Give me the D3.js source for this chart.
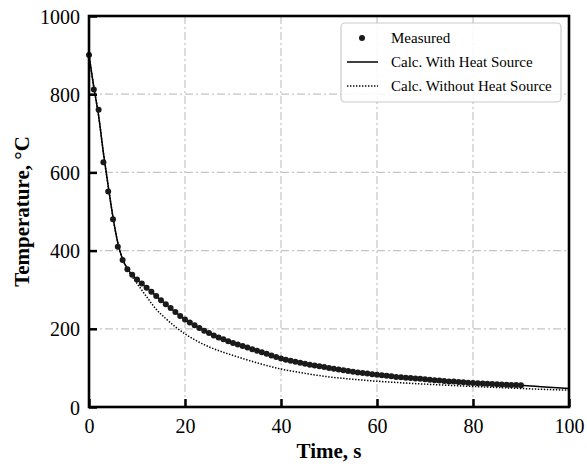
<!DOCTYPE html>
<html><head><meta charset="utf-8">
<script src="https://cdn.jsdelivr.net/npm/d3@7"></script>
<style>
html,body{margin:0;padding:0;background:#fff;}
svg{display:block;font-family:"Liberation Serif","Times New Roman",serif;}
</style></head>
<body><svg id="chart" width="587" height="464"></svg>
<script>
const xTicks = [0, 20, 40, 60, 80, 100];
const yTicks = [0, 200, 400, 600, 800, 1000];
const measuredTime = d3.range(0, 91);
const measuredTemp = [900,812,760,626,551,480,410,376,352,338,326,316,305,295,284,273,263,253,243,233,224,216,209,202,195,189,183,178,173,168,164,160,156,152,148,144,140,136,132,128,124,121,118,115.5,113,110.5,108,106,104,102,100,98,96,94,92,90,88.5,87,85.5,84,82.5,81,80,78.5,77,76,75,74,73,72,71,69.5,68.5,67.5,66.5,65.5,65,64,63,62,61.5,61,60,59.5,59,58,57.5,57,56.5,56,55.5];
const withTime = [0,1,2,3,4,5,6,7,8,9,10,12,15,20,25,30,35,40,45,50,55,60,65,70,75,80,85,90,95,100];
const withTemp = [900,818,745,650,565,485,420,378,354,338,326,305,273,224,189,164,144,124,110.5,100,90,82.5,76,71,65.5,61.5,58,55.5,51,47];
const withoutTime = [0,1,2,3,4,5,6,7,8,9,10,12,14,16,18,20,22,25,28,30,35,40,45,50,55,60,65,70,75,80,85,90,95,100];
const withoutTemp = [900,818,745,650,565,485,420,378,354,333,316,282,250,226,205,187,172,154,140,132,113,97,86,77,71,66,62,58.5,55.5,52.5,50,47.5,45,43];
const legendLabels = ["Measured", "Calc. With Heat Source", "Calc. Without Heat Source"];

const svg = d3.select("#chart");
const m = {l: 89, r: 569, t: 16, b: 407};
const x = d3.scaleLinear().domain([0, 100]).range([m.l, m.r]);
const y = d3.scaleLinear().domain([0, 1000]).range([m.b, m.t]);

// grid
const grid = svg.append("g").attr("stroke", "#c4c4c4").attr("stroke-width", 1.2).attr("stroke-dasharray", "8,3,2,3");
xTicks.filter(d => d > 0 && d < 100).forEach(d => grid.append("line").attr("x1", x(d)).attr("x2", x(d)).attr("y1", m.t).attr("y2", m.b));
yTicks.filter(d => d > 0 && d < 1000).forEach(d => grid.append("line").attr("x1", m.l).attr("x2", m.r).attr("y1", y(d)).attr("y2", y(d)));

// lines
const lineGen = d3.line().x(d => x(d[0])).y(d => y(d[1])).curve(d3.curveMonotoneX);
svg.append("path").datum(withoutTime.map((t, i) => [t, withoutTemp[i]]))
  .attr("d", lineGen).attr("fill", "none").attr("stroke", "#000").attr("stroke-width", 1.5).attr("stroke-dasharray", "1.4,1.6");
svg.append("path").datum(withTime.map((t, i) => [t, withTemp[i]]))
  .attr("d", lineGen).attr("fill", "none").attr("stroke", "#000").attr("stroke-width", 1.5);

// points
svg.append("g").selectAll("circle").data(measuredTime.map((t, i) => [t, measuredTemp[i]])).join("circle")
  .attr("cx", d => x(d[0])).attr("cy", d => y(d[1])).attr("r", 3).attr("fill", "#1a1a1a");

// axes
const xAxis = d3.axisBottom(x).tickValues(xTicks).tickSize(-8).tickPadding(12).tickFormat(d3.format("d"));
const yAxis = d3.axisLeft(y).tickValues(yTicks).tickSize(-8).tickPadding(12).tickFormat(d3.format("d"));
const gx = svg.append("g").attr("transform", `translate(0,${m.b})`).call(xAxis);
const gy = svg.append("g").attr("transform", `translate(${m.l},0)`).call(yAxis);
[gx, gy].forEach(g => {
  g.attr("font-family", null);
  g.select(".domain").remove();
  g.selectAll(".tick line").attr("stroke", "#000").attr("stroke-width", 2.5);
  g.selectAll(".tick text").style("font-family", "'Liberation Serif', serif").attr("font-size", 20).attr("fill", "#000");
});
gy.selectAll(".tick text").attr("dx", "3").attr("dy", "0.35em");

// frame
svg.append("rect").attr("x", m.l).attr("y", m.t).attr("width", m.r - m.l).attr("height", m.b - m.t)
  .attr("fill", "none").attr("stroke", "#000").attr("stroke-width", 2.6);

// labels
svg.append("text").attr("x", (m.l + m.r) / 2).attr("y", 458).attr("text-anchor", "middle")
  .attr("font-size", 21).attr("font-weight", "bold").text("Time, s");
svg.append("text").attr("transform", `translate(29,${(m.t + m.b) / 2}) rotate(-90)`).attr("text-anchor", "middle")
  .attr("font-size", 21).attr("font-weight", "bold").text("Temperature, °C");

// legend
const lg = svg.append("g");
lg.append("rect").attr("x", 341).attr("y", 23).attr("width", 220).attr("height", 79).attr("rx", 4)
  .attr("fill", "#fff").attr("fill-opacity", 0.85).attr("stroke", "#cccccc").attr("stroke-width", 1.2);
const rowY = [38, 62, 86];
lg.append("circle").attr("cx", 362).attr("cy", rowY[0]).attr("r", 3).attr("fill", "#1a1a1a");
lg.append("line").attr("x1", 347).attr("x2", 378).attr("y1", rowY[1]).attr("y2", rowY[1]).attr("stroke", "#000").attr("stroke-width", 1.5);
lg.append("line").attr("x1", 347).attr("x2", 378).attr("y1", rowY[2]).attr("y2", rowY[2]).attr("stroke", "#000").attr("stroke-width", 1.5).attr("stroke-dasharray", "1.4,1.6");
legendLabels.forEach((t, i) => lg.append("text").attr("x", 391).attr("y", rowY[i]).attr("dy", "0.35em")
  .attr("font-size", 15).attr("fill", "#000").text(t));
</script></body></html>
